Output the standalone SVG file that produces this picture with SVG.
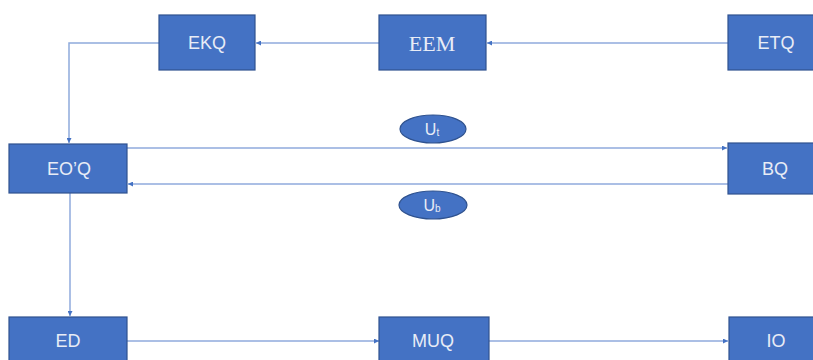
<svg xmlns="http://www.w3.org/2000/svg" width="813" height="360" viewBox="0 0 813 360">
<style>
.box{fill:#4472C4;stroke:#2F528F;stroke-width:1.2}
.lbl{font-family:"Liberation Sans",Arial,sans-serif;font-size:18px;fill:#E8ECF6;text-anchor:middle;dominant-baseline:central}
.serif{font-family:"Liberation Serif","Times New Roman",serif;font-size:22px}
.con{fill:none;stroke:#8FAADC;stroke-width:1.5}
</style>
<defs>
<marker id="ah" viewBox="0 0 10 10" refX="10" refY="5" markerWidth="5" markerHeight="5" orient="auto" markerUnits="userSpaceOnUse">
<path d="M0,0 L10,5 L0,10 z" fill="#4472C4"/>
</marker>
</defs>
<rect width="813" height="360" fill="#ffffff"/>
<g id="connectors">
<path class="con" d="M728,43 H487" marker-end="url(#ah)"/>
<path class="con" d="M379,43 H256" marker-end="url(#ah)"/>
<path class="con" d="M159,43 H69 V143" marker-end="url(#ah)"/>
<path class="con" d="M127,148 H727" marker-end="url(#ah)"/>
<path class="con" d="M728,184 H128" marker-end="url(#ah)"/>
<path class="con" d="M70,193 V316" marker-end="url(#ah)"/>
<path class="con" d="M127,341 H379" marker-end="url(#ah)"/>
<path class="con" d="M489,341 H728" marker-end="url(#ah)"/>
</g>
<g id="EKQ"><rect class="box" x="159" y="15" width="96" height="55"/><text class="lbl" x="207" y="43">EKQ</text></g>
<g id="EEM"><rect class="box" x="379" y="15" width="107" height="55"/><text class="lbl serif" x="432" y="43">EEM</text></g>
<g id="ETQ"><rect class="box" x="728" y="15" width="100" height="55"/><text class="lbl" x="776" y="43">ETQ</text></g>
<g id="EOQ"><rect class="box" x="9" y="144" width="118" height="49"/><text class="lbl" x="69" y="169">EO’Q</text></g>
<g id="BQ"><rect class="box" x="728" y="143" width="100" height="51"/><text class="lbl" x="775" y="169">BQ</text></g>
<g id="Ut"><ellipse class="box" cx="433" cy="129" rx="33" ry="14"/><text class="lbl" x="432" y="129" style="font-size:16px">U<tspan style="font-size:10px" dy="3">t</tspan></text></g>
<g id="Ub"><ellipse class="box" cx="433" cy="205" rx="34" ry="14"/><text class="lbl" x="432" y="205" style="font-size:16px">U<tspan style="font-size:10px" dy="3">b</tspan></text></g>
<g id="ED"><rect class="box" x="9" y="317" width="118" height="55"/><text class="lbl" x="68" y="341">ED</text></g>
<g id="MUQ"><rect class="box" x="379" y="317" width="110" height="55"/><text class="lbl" x="433" y="341">MUQ</text></g>
<g id="IO"><rect class="box" x="729" y="317" width="100" height="55"/><text class="lbl" x="776" y="341">IO</text></g>
</svg>
